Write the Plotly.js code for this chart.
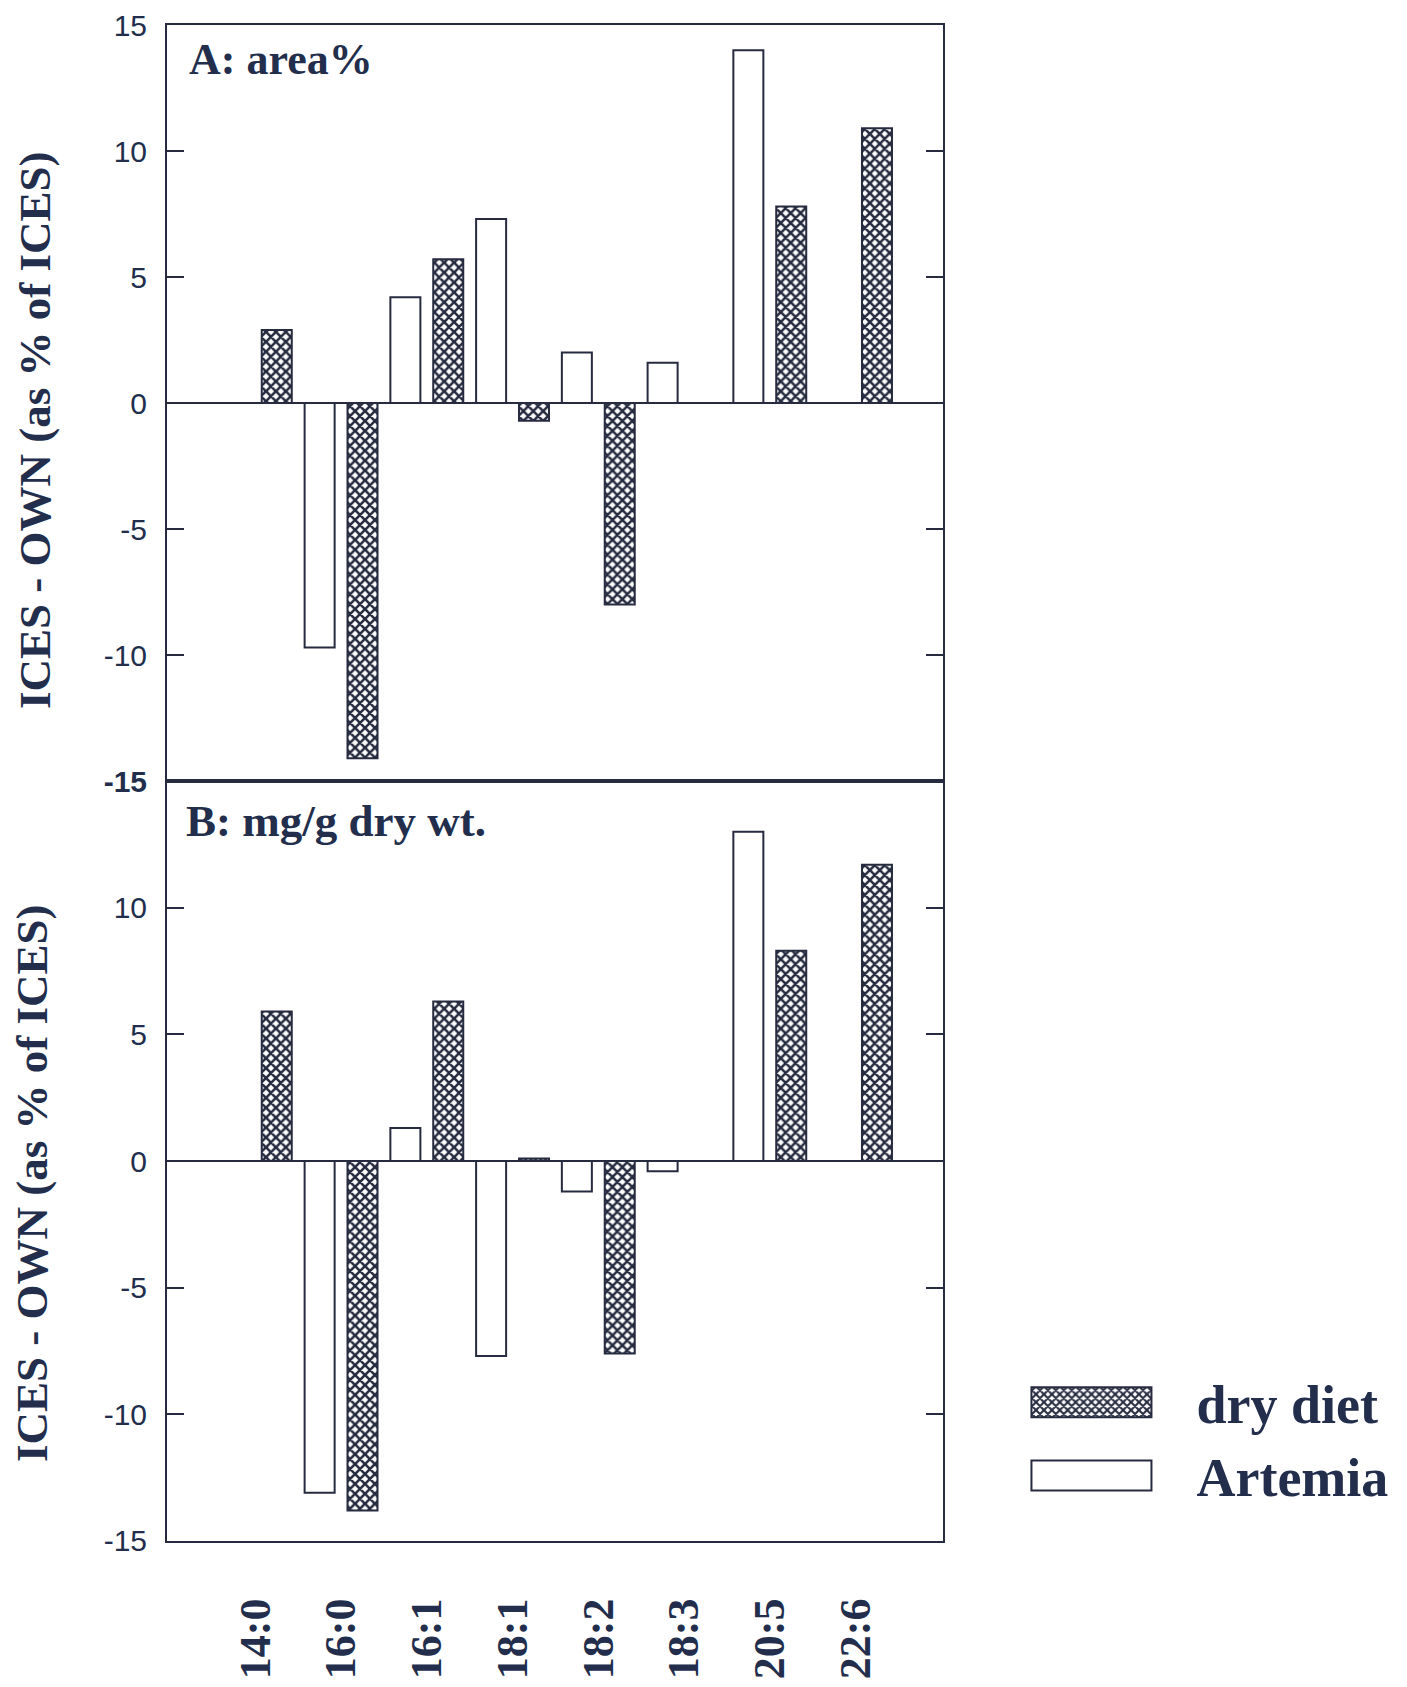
<!DOCTYPE html>
<html>
<head>
<meta charset="utf-8">
<script src="https://cdn.plot.ly/plotly-3.0.1.min.js"></script>
<style>
  html, body { margin: 0; padding: 0; background: #ffffff; }
  #chart { width: 1407px; height: 1687px; }
</style>
</head>
<body>
<div id="chart"></div>
<script>
// ---- data ----
var categories = ['14:0', '16:0', '16:1', '18:1', '18:2', '18:3', '20:5', '22:6'];
// Panel A: area%
var areaArtemia = [null, -9.7, 4.2, 7.3, 2.0, 1.6, 14.0, null];
var areaDryDiet = [2.9, -14.1, 5.7, -0.7, -8.0, null, 7.8, 10.9];
// Panel B: mg/g dry wt.
var massArtemia = [null, -13.1, 1.3, -7.7, -1.2, -0.4, 13.0, null];
var massDryDiet = [5.9, -13.8, 6.3, 0.1, -7.6, null, 8.3, 11.7];
var seriesNames = ['dry diet', 'Artemia'];
var yTicksA = [-15, -10, -5, 0, 5, 10, 15];
var yTickTextA = ['<b>-15</b>', '-10', '-5', '0', '5', '10', '15'];
var yTicksB = [-15, -10, -5, 0, 5, 10];
var yTickTextB = ['-15', '-10', '-5', '0', '5', '10'];

// ---- styles ----
var ink = '#262b40';
var textInk = '#222e4c';
var serif = '"Liberation Serif", "Times New Roman", serif';
var sans = '"Liberation Sans", Arial, sans-serif';

var dryMarker = {
  color: ink,
  line: { color: ink, width: 2 },
  pattern: { shape: 'x', fgcolor: ink, bgcolor: '#ffffff', size: 7, solidity: 0.6, fillmode: 'replace' }
};
var artMarker = { color: '#ffffff', line: { color: ink, width: 2 } };

var traces = [
  { type: 'bar', x: categories, y: areaArtemia, name: seriesNames[1], marker: artMarker,
    xaxis: 'x', yaxis: 'y', legendrank: 2, showlegend: true, hoverinfo: 'x+y+name' },
  { type: 'bar', x: categories, y: areaDryDiet, name: seriesNames[0], marker: dryMarker,
    xaxis: 'x', yaxis: 'y', legendrank: 1, showlegend: true, hoverinfo: 'x+y+name' },
  { type: 'bar', x: categories, y: massArtemia, name: seriesNames[1], marker: artMarker,
    xaxis: 'x2', yaxis: 'y2', showlegend: false, hoverinfo: 'x+y+name' },
  { type: 'bar', x: categories, y: massDryDiet, name: seriesNames[0], marker: dryMarker,
    xaxis: 'x2', yaxis: 'y2', showlegend: false, hoverinfo: 'x+y+name' }
];

var split = 0.5013;
var xCommon = {
  type: 'category', range: [-1.03, 8.02], showline: true, mirror: true,
  linecolor: ink, linewidth: 2, showgrid: false, zeroline: false, fixedrange: true
};
var yCommon = {
  range: [-15, 15], showline: true, mirror: 'ticks', linecolor: ink, linewidth: 2,
  ticks: 'inside', ticklen: 17, tickwidth: 2, tickcolor: ink, showgrid: false,
  zeroline: true, zerolinecolor: ink, zerolinewidth: 2,
  tickfont: { family: sans, size: 30, color: textInk }, ticklabelstandoff: 12, fixedrange: true
};

var layout = {
  width: 1407, height: 1687,
  paper_bgcolor: '#ffffff', plot_bgcolor: '#ffffff',
  margin: { l: 167, r: 464, t: 25, b: 146 },
  barmode: 'group', bargap: 0, bargroupgap: 0.3,
  xaxis: Object.assign({}, xCommon, { anchor: 'y', domain: [0, 1], showticklabels: false, ticks: '', matches: 'x2' }),
  xaxis2: Object.assign({}, xCommon, { anchor: 'y2', domain: [0, 1], ticks: '', tickangle: -90,
    ticklabelstandoff: 38,
    tickfont: { family: serif, size: 44, color: textInk, weight: 'bold' } }),
  yaxis: Object.assign({}, yCommon, { anchor: 'x', domain: [split, 1], tickvals: yTicksA, ticktext: yTickTextA }),
  yaxis2: Object.assign({}, yCommon, { anchor: 'x2', domain: [0, split], tickvals: yTicksB, ticktext: yTickTextB }),
  showlegend: true,
  legend: {
    x: 1.056, xanchor: 'left', y: 0.119, yanchor: 'top',
    font: { family: serif, size: 54, color: textInk, weight: 'bold' },
    itemwidth: 200, bgcolor: 'rgba(0,0,0,0)', borderwidth: 0,
    itemclick: false, itemdoubleclick: false
  },
  annotations: [
    { text: '<b>A: area%</b>', xref: 'paper', yref: 'paper', x: 0.026, y: 0.977,
      xanchor: 'left', yanchor: 'middle', showarrow: false,
      font: { family: serif, size: 44, color: textInk } },
    { text: '<b>B: mg/g dry wt.</b>', xref: 'paper', yref: 'paper', x: 0.022, y: 0.475,
      xanchor: 'left', yanchor: 'middle', showarrow: false,
      font: { family: serif, size: 45, color: textInk } },
    { text: '<b>ICES - OWN (as % of ICES)</b>', xref: 'paper', yref: 'paper',
      x: (35 - 167) / 776, y: (1541 - 430) / 1516, xanchor: 'center', yanchor: 'middle',
      textangle: -90, showarrow: false, font: { family: serif, size: 45, color: textInk } },
    { text: '<b>ICES - OWN (as % of ICES)</b>', xref: 'paper', yref: 'paper',
      x: (32 - 167) / 776, y: (1541 - 1183) / 1516, xanchor: 'center', yanchor: 'middle',
      textangle: -90, showarrow: false, font: { family: serif, size: 45, color: textInk } }
  ]
};

Plotly.newPlot('chart', traces, layout, { displayModeBar: false }).then(function () {
  // widen legend swatches to the long boxes of the original figure
  document.querySelectorAll('.legend .legendpoints path').forEach(function (p) {
    p.setAttribute('d', 'M60,15H-60V-15H60Z');
  });
});
</script>
</body>
</html>
